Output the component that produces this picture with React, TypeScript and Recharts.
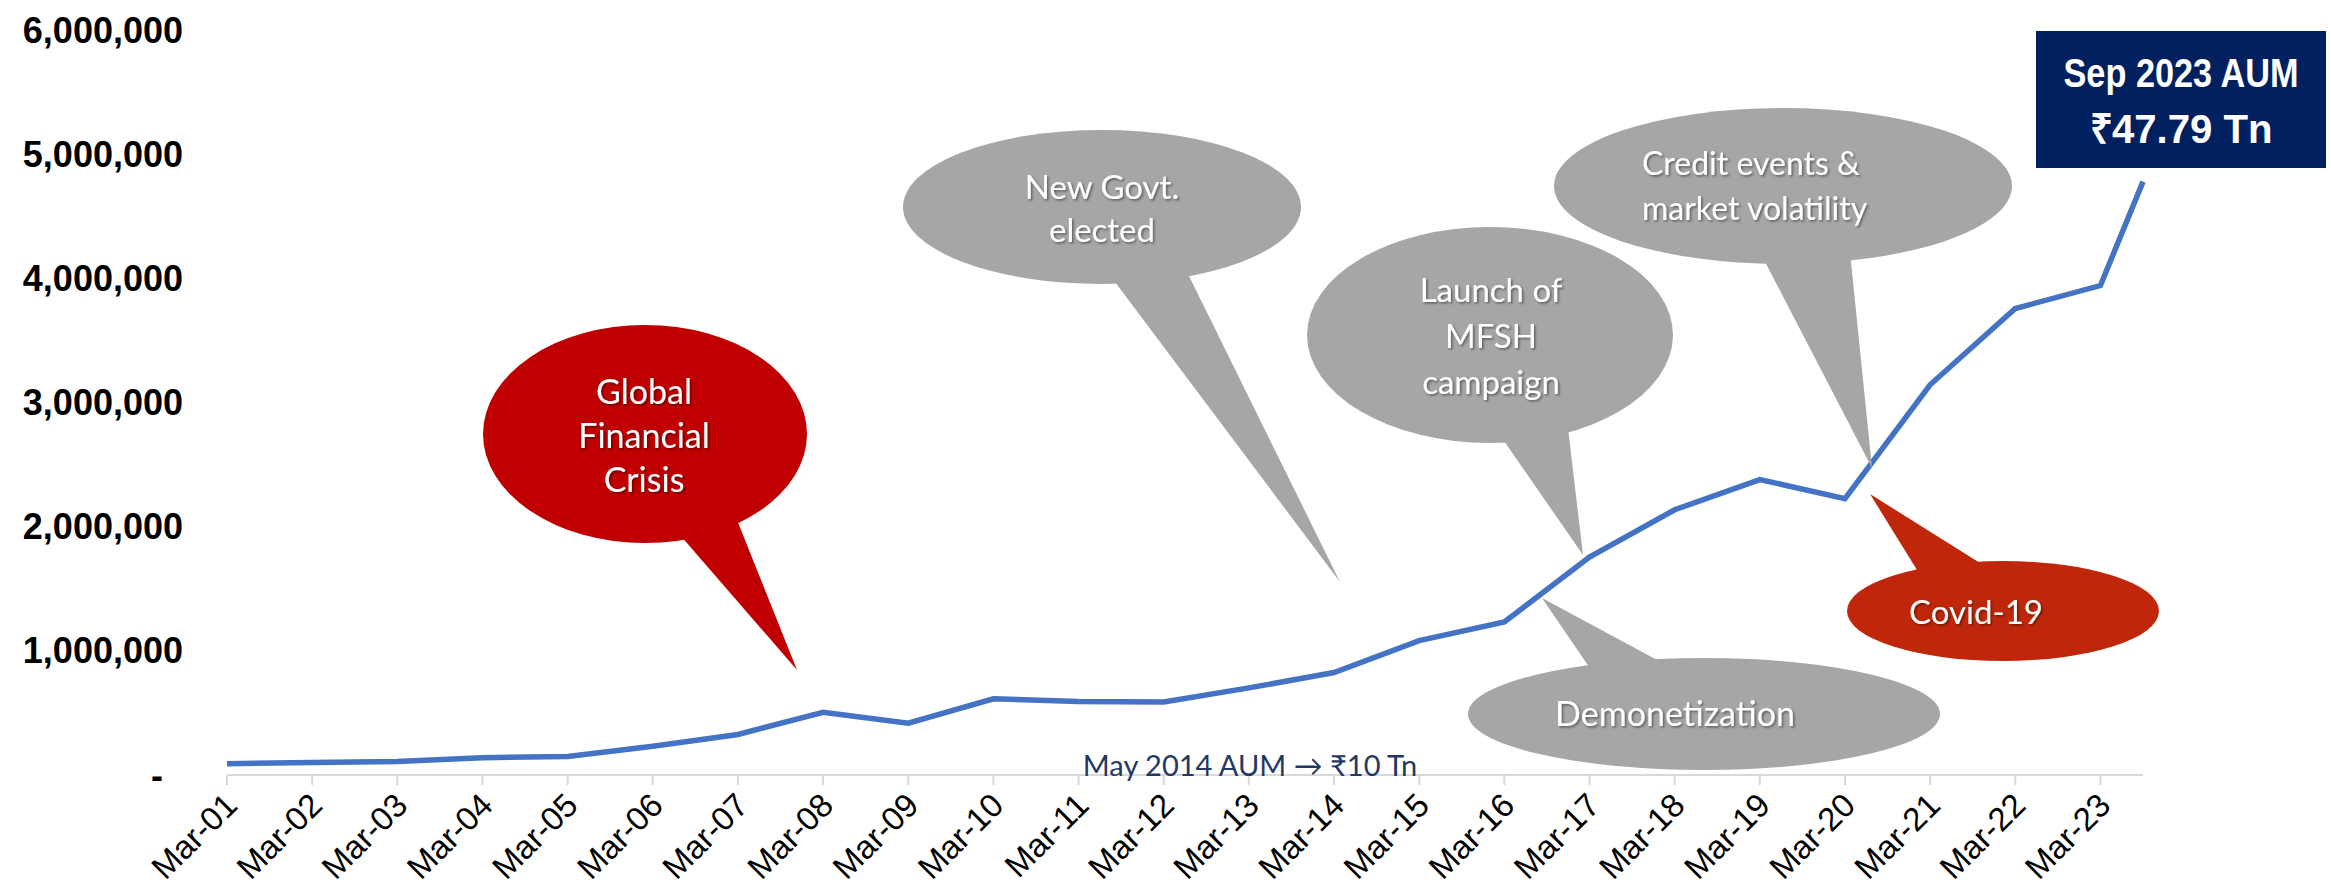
import React from "react";
import { LineChart, Line, XAxis, YAxis } from "recharts";

// AUM in Rs crore, March of each year
const categories = [
  "Mar-01", "Mar-02", "Mar-03", "Mar-04", "Mar-05", "Mar-06", "Mar-07", "Mar-08",
  "Mar-09", "Mar-10", "Mar-11", "Mar-12", "Mar-13", "Mar-14", "Mar-15", "Mar-16",
  "Mar-17", "Mar-18", "Mar-19", "Mar-20", "Mar-21", "Mar-22", "Mar-23",
];
const aumCrore = [
  90587, 100594, 109299, 139616, 149600, 231862, 326292, 505152,
  417300, 613979, 592250, 587217, 701443, 825240, 1082757, 1232824,
  1754619, 2136036, 2379584, 2226203, 3142764, 3756683, 3942031,
];
// latest reading, Sep 2023 = 6 months after the last March
const latestAum = 4779000;
const latestMonthsAfterMar = 6;
const yTicks = [0, 1000000, 2000000, 3000000, 4000000, 5000000, 6000000];

const data = [
  ...aumCrore.map((v, i) => ({ x: i, aum: v })),
  { x: categories.length - 1 + latestMonthsAfterMar / 12, aum: latestAum },
];
const xTicks = categories.map((_, i) => i);

const calloutFont = "Lato, 'Open Sans', 'Noto Sans', sans-serif";

const callouts = [
  { fill: "#C00000", cx: 645, cy: 434, rx: 162, ry: 109, tail: [[680, 535], [737, 520], [797, 670]],
    lines: ["Global", "Financial", "Crisis"], tx: 644, ty: 392, lh: 44, anchor: "middle", fs: 34 },
  { fill: "#A6A6A6", cx: 1102, cy: 207, rx: 199, ry: 77, tail: [[1112, 278], [1187, 272], [1340, 582]],
    lines: ["New Govt.", "elected"], tx: 1102, ty: 187, lh: 43, anchor: "middle", fs: 33 },
  { fill: "#A6A6A6", cx: 1490, cy: 335, rx: 183, ry: 108, tail: [[1502, 438], [1568, 428], [1583, 555]],
    lines: ["Launch of", "MFSH", "campaign"], tx: 1491, ty: 290, lh: 46, anchor: "middle", fs: 33 },
  { fill: "#A6A6A6", cx: 1783, cy: 186, rx: 229, ry: 78, tail: [[1762, 256], [1850, 252], [1872, 468]],
    lines: ["Credit events &", "market volatility"], tx: 1642, ty: 163, lh: 45, anchor: "start", fs: 32 },
  { fill: "#A6A6A6", cx: 1704, cy: 714, rx: 236, ry: 56, tail: [[1598, 680], [1685, 675], [1542, 598]],
    lines: ["Demonetization"], tx: 1675, ty: 714, lh: 0, anchor: "middle", fs: 34 },
  { fill: "#C0270A", cx: 2003, cy: 611, rx: 156, ry: 50, tail: [[1922, 578], [1988, 568], [1870, 494]],
    lines: ["Covid-19"], tx: 1976, ty: 612, lh: 0, anchor: "middle", fs: 33 },
];

//@ts-ignore
const YTick = ({ x, y, payload }) => {
  const zero = payload.value === 0;
  return (
    <text
      x={zero ? x - 20 : x}
      y={y}
      dy="0.35em"
      textAnchor="end"
      fontFamily="'Liberation Sans', Arial, sans-serif"
      fontWeight="bold"
      fontSize={36}
      fill="#000"
    >
      {zero ? "-" : Number(payload.value).toLocaleString("en-US")}
    </text>
  );
};

//@ts-ignore
const XTick = ({ x, y, payload }) => (
  <g transform={`translate(${x + 4},${y + 12})`}>
    <text
      textAnchor="end"
      dy="0.35em"
      transform="rotate(-45)"
      fontFamily="'Liberation Sans', Arial, sans-serif"
      fontSize={33}
      fill="#000"
    >
      {categories[payload.value]}
    </text>
  </g>
);

const Overlay = () => (
  <svg
    width={2331}
    height={892}
    style={{ position: "absolute", left: 0, top: 0, pointerEvents: "none" }}
  >
    <defs>
      <filter id="txtShadow" x="-20%" y="-20%" width="140%" height="140%">
        <feDropShadow dx="1.5" dy="1.5" stdDeviation="1" floodColor="#000" floodOpacity="0.45" />
      </filter>
    </defs>
    {callouts.map((c, i) => (
      <g key={i}>
        <ellipse cx={c.cx} cy={c.cy} rx={c.rx} ry={c.ry} fill={c.fill} />
        <polygon points={c.tail.map((p) => p.join(",")).join(" ")} fill={c.fill} />
        {c.lines.map((l, j) => (
          <text
            key={j}
            x={c.tx}
            y={c.ty + j * c.lh}
            dy="0.36em"
            textAnchor={c.anchor as any}
            fontFamily={calloutFont}
            fontSize={c.fs}
            fill="#fff"
            filter="url(#txtShadow)"
          >
            {l}
          </text>
        ))}
      </g>
    ))}
    <text x={1250} y={776} textAnchor="middle" fontFamily={calloutFont} fontSize={29} fill="#1F3864">
      May 2014 AUM → ₹10 Tn
    </text>
    <rect x={2036} y={31} width={290} height={137} fill="#002060" />
    <text x={2181} y={72} dy="0.36em" textAnchor="middle" fontFamily="'Liberation Sans Narrow', 'Liberation Sans', Arial, sans-serif"
      fontWeight="bold" fontSize={41} fill="#fff" textLength={235} lengthAdjust="spacingAndGlyphs">
      Sep 2023 AUM
    </text>
    <text x={2181} y={128} dy="0.36em" textAnchor="middle" fontFamily="'Liberation Sans Narrow', 'Liberation Sans', Arial, sans-serif"
      fontWeight="bold" fontSize={41} fill="#fff" textLength={183} lengthAdjust="spacingAndGlyphs">
      ₹47.79 Tn
    </text>
  </svg>
);

const App = () => {
  return (
    <div style={{ position: "absolute", left: 0, top: 0, width: 2331, height: 892, background: "#fff" }}>
      <LineChart width={2331} height={892} data={data} margin={{ top: 30, right: 188, bottom: 0, left: 0 }}>
        <XAxis
          dataKey="x"
          type="number"
          domain={[0, 22.5]}
          ticks={xTicks}
          interval={0}
          height={117}
          stroke="#D9D9D9"
          strokeWidth={2}
          tickSize={10}
          tick={
            //@ts-ignore
            <XTick />
          }
        />
        <YAxis
          type="number"
          domain={[0, 6000000]}
          ticks={yTicks}
          width={227}
          axisLine={false}
          tickLine={false}
          tickSize={6}
          tickMargin={38}
          tick={
            //@ts-ignore
            <YTick />
          }
        />
        <Line
          type="linear"
          dataKey="aum"
          stroke="#4472C4"
          strokeWidth={5.5}
          dot={false}
          isAnimationActive={false}
        />
      </LineChart>
      <Overlay />
    </div>
  );
};

export default App;
